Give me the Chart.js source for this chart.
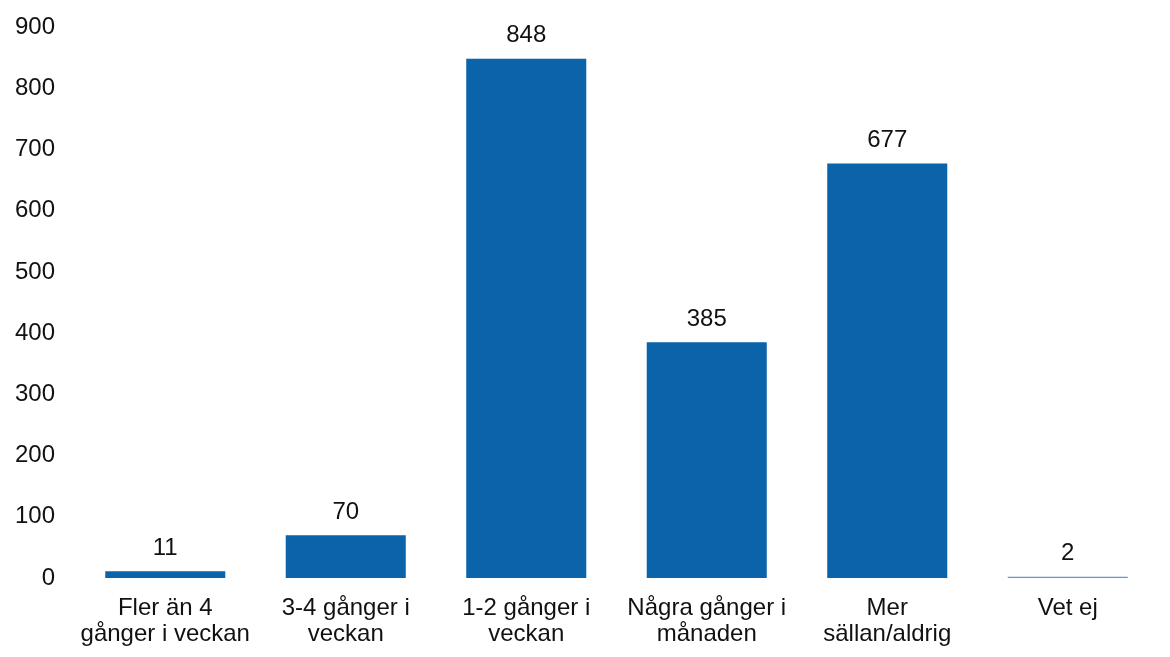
<!DOCTYPE html>
<html>
<head>
<meta charset="utf-8">
<script src="https://cdn.jsdelivr.net/npm/chart.js@4"></script>
<style>
  html, body { margin: 0; padding: 0; background: #fff; }
  #wrap { width: 1170px; height: 657px; }
</style>
</head>
<body>
<div id="wrap"><canvas id="chart"></canvas></div>
<script>
"use strict";
// categories and values
const categories = [
    ["Fler än 4", "gånger i veckan"],
    ["3-4 gånger i", "veckan"],
    ["1-2 gånger i", "veckan"],
    ["Några gånger i", "månaden"],
    ["Mer", "sällan/aldrig"],
    ["Vet ej"]
];
const counts = [11, 70, 848, 385, 677, 2];
const barColors = ["#0b63aa", "#0b63aa", "#0b63aa", "#0b63aa", "#0b63aa", "#5b9bd5"];

const FONT = "'Liberation Sans', Arial, sans-serif";

// draws the value above each bar
const valueLabels = {
    id: "valueLabels",
    afterDatasetsDraw(chart) {
        const ctx = chart.ctx;
        const meta = chart.getDatasetMeta(0);
        ctx.save();
        ctx.font = "24px " + FONT;
        ctx.fillStyle = "#111";
        ctx.textAlign = "center";
        ctx.textBaseline = "bottom";
        meta.data.forEach((bar, i) => {
            ctx.fillText(String(counts[i]), bar.x, bar.y - 11);
        });
        ctx.restore();
    }
};

new Chart(document.getElementById("chart"), {
    type: "bar",
    data: {
        labels: categories,
        datasets: [{
            data: counts,
            backgroundColor: barColors,
            barPercentage: 0.665,
            categoryPercentage: 1.0
        }]
    },
    options: {
        responsive: true,
        maintainAspectRatio: false,
        animation: false,
        layout: { padding: { left: 13, right: 12, top: 27, bottom: 9 } },
        plugins: {
            legend: { display: false },
            tooltip: { enabled: false }
        },
        scales: {
            x: {
                grid: { display: false, drawTicks: false },
                border: { display: false },
                afterFit(scale) { scale.height = 70; },
                ticks: {
                    color: "#111",
                    font: { family: FONT, size: 24, lineHeight: 1.1 },
                    padding: 17,
                    maxRotation: 0,
                    autoSkip: false
                }
            },
            y: {
                min: 0,
                max: 900,
                grid: { display: false, drawTicks: false },
                border: { display: false },
                afterFit(scale) {
                    scale.width = 62;
                    scale.paddingTop = 0;
                },
                ticks: {
                    stepSize: 100,
                    color: "#111",
                    font: { family: FONT, size: 24 },
                    padding: 20
                }
            }
        }
    },
    plugins: [valueLabels]
});
</script>
</body>
</html>
